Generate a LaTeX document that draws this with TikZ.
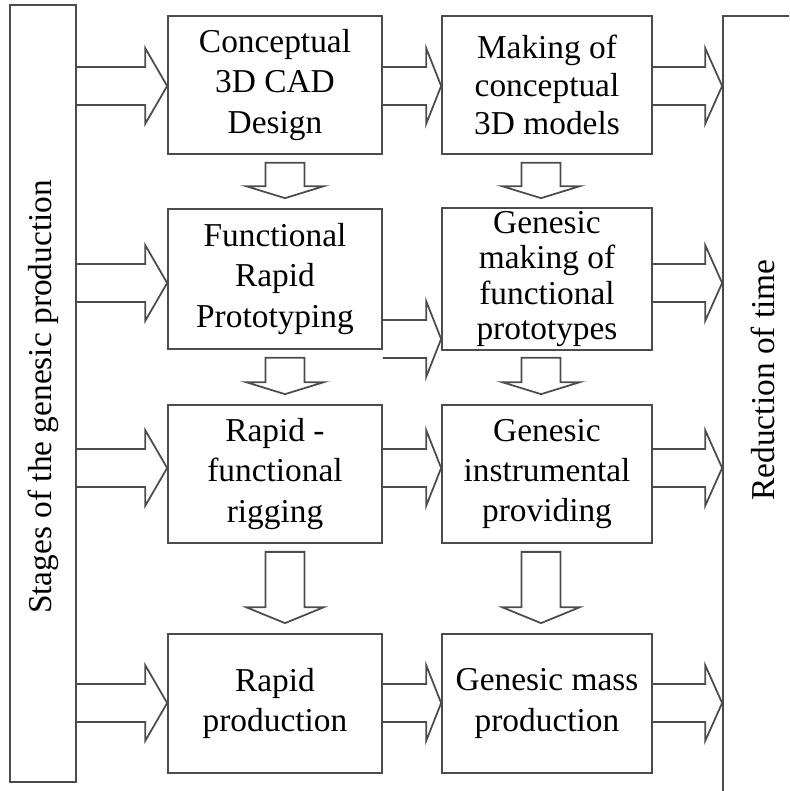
\documentclass[tikz,border=0pt]{standalone}
\usepackage{fontspec}
\setmainfont{Liberation Serif}
\usetikzlibrary{calc}
% hollow block arrows: [head length]{start}{tip}
\newcommand{\harr}[3][16]{%
  \draw[blockarr] ($(#2)+(0,-19)$) -- ($(#3)+(-#1,-19)$) -- ($(#3)+(-#1,-38)$)
    -- (#3) -- ($(#3)+(-#1,38)$) -- ($(#3)+(-#1,19)$) -- ($(#2)+(0,19)$);}
\newcommand{\varr}[3][12]{%
  \draw[blockarr] ($(#2)+(-19.5,8)$) -- ($(#3)+(-19.5,-10-#1)$) -- ($(#3)+(-39,-10-#1)$)
    -- ($(#3)+(0,-10)$) -- ($(#3)+(39,-10-#1)$) -- ($(#3)+(19.5,-10-#1)$)
    -- ($(#2)+(19.5,8)$) -- cycle;}

\begin{document}
\begin{tikzpicture}[x=0.02cm, y=-0.02cm,
    stage/.style={draw=black!70, line width=1pt, align=center, inner sep=2pt},
    blockarr/.style={draw=black!70, line width=1pt, line join=miter},
    sidetext/.style={rotate=90, font=\fontsize{19}{23}\selectfont}]
  \useasboundingbox (0,0) rectangle (789,791);
  \clip (0,0) rectangle (789,791);
  % side bars
  \node[draw=black!70, line width=1pt, minimum width=1.32cm, minimum height=15.54cm] (stages) at (43,393.5) {};
  \node[sidetext] (stagestxt) at (43,397) {Stages of the genesic production};
  \node[draw=black!70, line width=1pt, minimum width=2cm, minimum height=16.4cm] (reduct) at (773,426) {};
  \node[sidetext] (reducttxt) at (763,380) {Reduction of time};
  % stage boxes
  \foreach \nm/\bx/\by/\bw/\bh/\lsk/\txt in {
      cad/275/85/4.28/2.76/23/{Conceptual\\3D CAD\\Design},
      models/547/85/4.2/2.76/21.6/{Making of\\conceptual\\3D models},
      proto/275/279/4.28/2.8/23/{Functional\\Rapid\\Prototyping},
      genproto/547/279/4.2/2.8/20/{Genesic\\making of\\functional\\prototypes},
      rigging/275/474/4.28/2.76/23/{Rapid -\\functional\\rigging},
      instr/547/474/4.2/2.76/23/{Genesic\\instrumental\\providing},
      rapid/275/703.5/4.28/2.78/23/{Rapid\\production},
      mass/547/703.5/4.2/2.78/23/{Genesic mass\\production}}
    \node[stage, minimum width=\bw cm, minimum height=\bh cm,
      font=\fontsize{19}{\lsk}\selectfont] (\nm) at (\bx,\by) {\txt};
  % arrows along the rows
  \foreach \src/\dst/\ty in {cad/models/86, proto/genproto/283, rigging/instr/468, rapid/mass/703} {
    \harr[22]{stages.east |- 0,\ty}{\src.west |- 0,\ty}
    \harr[17]{\dst.east |- 0,\ty}{reduct.west |- 0,\ty}
  }
  \foreach \src/\dst/\ty in {cad/models/86, proto/genproto/339, rigging/instr/468, rapid/mass/703}
    \harr[15]{\src.east |- 0,\ty}{\dst.west |- 0,\ty};
  % arrows down the columns
  \foreach \colx in {285, 541} {
    \varr{cad.south -| \colx,0}{proto.north -| \colx,0}
    \varr{proto.south -| \colx,0}{rigging.north -| \colx,0}
    \varr[16]{rigging.south -| \colx,0}{rapid.north -| \colx,0}
  }
\end{tikzpicture}
\end{document}
